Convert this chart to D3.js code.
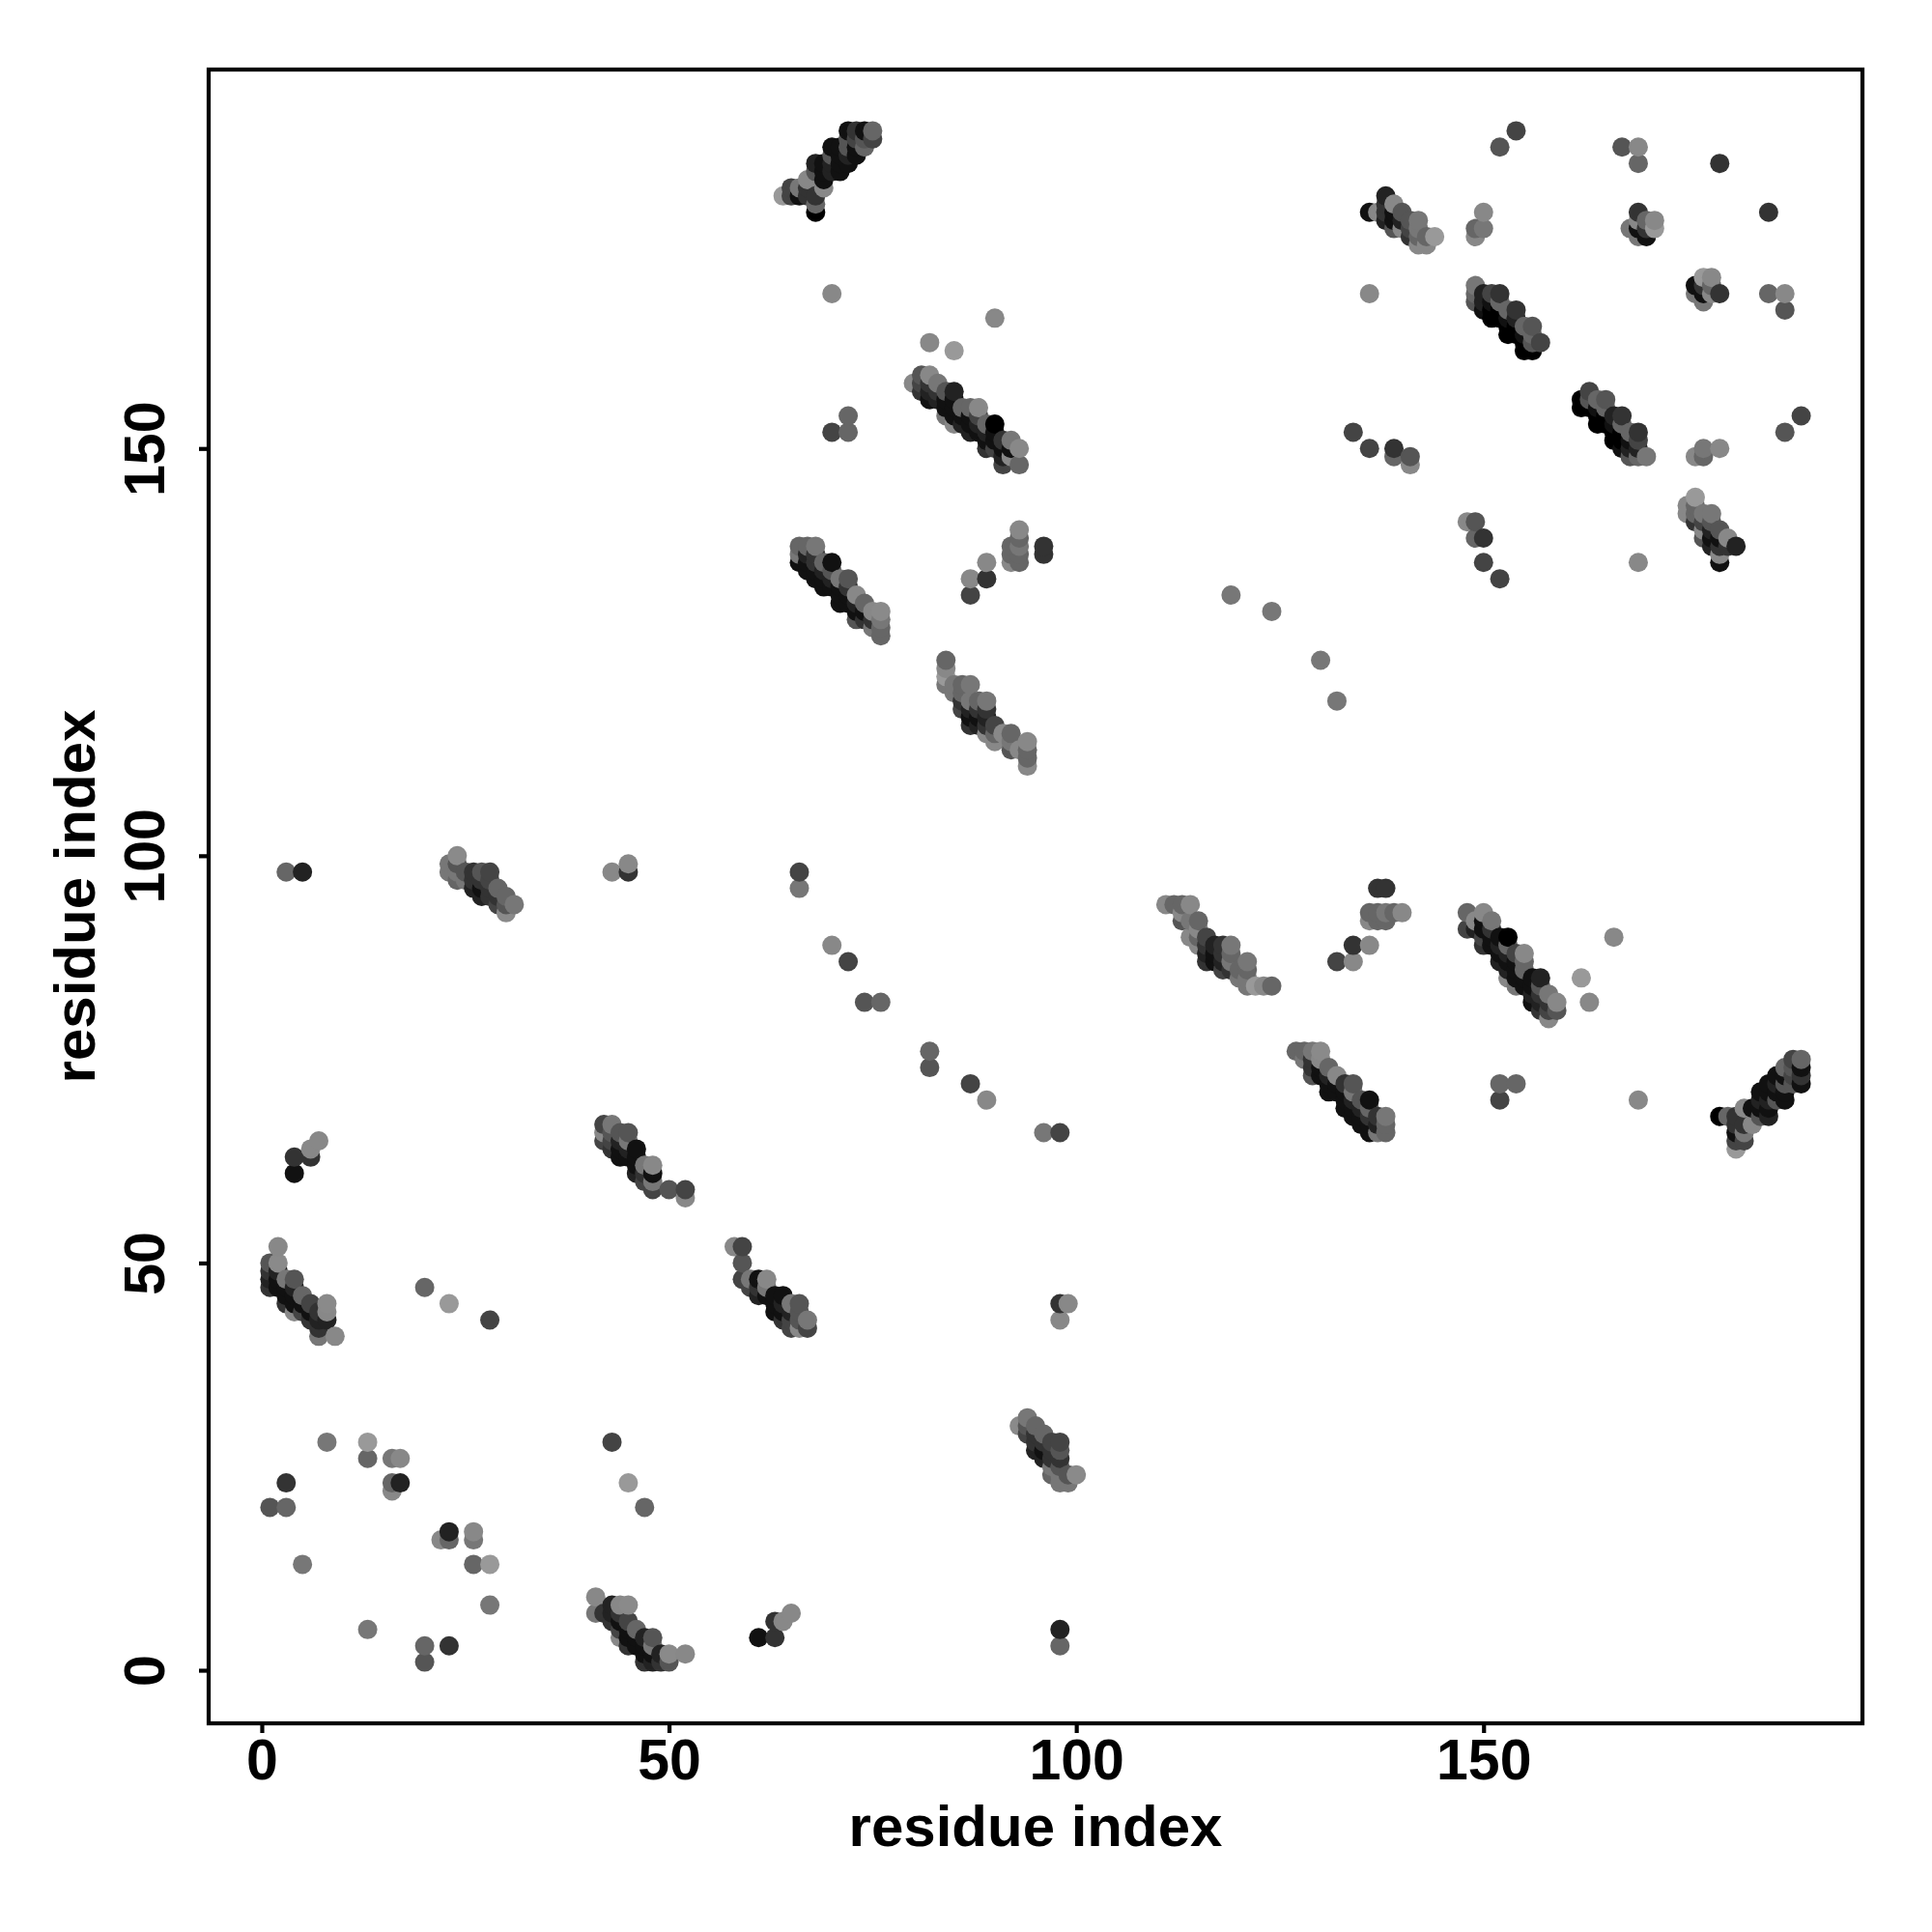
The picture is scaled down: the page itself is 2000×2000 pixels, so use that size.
<!DOCTYPE html>
<html><head><meta charset="utf-8">
<script src="https://cdn.jsdelivr.net/npm/d3@7"></script>
<style>html,body{margin:0;padding:0;background:#fff}svg{display:block}</style>
</head><body><div id="chart"></div>
<script>
// contacts [residue i, residue j, shade level]; the map is symmetric, only i<j is listed
const clusterA=[[1,47,0x33],[1,48,0x22],[1,49,0x33],[1,50,0x55],[2,47,0x11],[2,48,0x11],[2,49,0x22],[2,50,0x8a],[2,52,0x88],[3,45,0x33],[3,46,0x11],[3,47,0x11],[3,48,0x77],[4,44,0x88],[4,45,0x11],[4,46,0x11],[4,47,0x22],[4,48,0x55],[5,44,0x44],[5,45,0x11],[5,46,0x66],[6,43,0x33],[6,44,0x11],[6,45,0x44],[7,41,0x77],[7,42,0x33],[7,43,0x22],[7,44,0x33],[8,43,0x22],[8,44,0x88],[8,45,0x8a],[9,41,0x88]];
const clusterB=[[23,98,0x77],[23,99,0x77],[24,97,0x66],[24,98,0x77],[24,99,0x55],[24,100,0x8a],[25,97,0x77],[25,98,0x55],[26,96,0x22],[26,97,0x33],[26,98,0x33],[27,95,0x22],[27,96,0x11],[27,97,0x33],[27,98,0x55],[28,95,0x33],[28,96,0x33],[28,97,0x44],[28,98,0x44],[29,94,0x44],[29,95,0x33],[29,96,0x66],[30,93,0x8a],[30,94,0x55],[30,95,0x66],[31,94,0x77]];
const clusterC=[[42,65,0x44],[42,66,0x88],[42,67,0x44],[43,64,0x33],[43,65,0x44],[43,66,0x55],[43,67,0x77],[44,63,0x11],[44,64,0x11],[44,65,0x22],[44,66,0x55],[45,63,0x11],[45,64,0x22],[45,65,0x77],[45,66,0x55],[46,61,0x22],[46,62,0x11],[46,63,0x11],[46,64,0x11],[47,60,0x44],[47,61,0x33],[47,62,0x77],[48,59,0x44],[48,60,0x77],[48,61,0x11],[48,62,0x88],[50,59,0x55],[52,58,0x88],[52,59,0x44]];
const clusterD=[[64,181,0x99],[65,181,0x44],[65,182,0x44],[66,181,0x11],[66,182,0x77],[67,181,0x33],[67,182,0x33],[67,183,0x88],[68,179,0x00],[68,180,0x66],[68,181,0x33],[68,184,0x55],[68,185,0x22],[69,182,0x88],[69,183,0x11],[69,184,0x11],[69,185,0x11],[70,184,0x22],[70,185,0x22],[70,186,0x55],[70,187,0x11],[71,184,0x11],[71,185,0x11],[71,186,0x11],[71,187,0x11],[72,185,0x11],[72,186,0x22],[72,187,0x55],[72,188,0x55],[72,189,0x11],[73,186,0x11],[73,187,0x11],[73,188,0x44],[73,189,0x33],[74,187,0x66],[74,188,0x55],[74,189,0x11],[75,188,0x44],[75,189,0x66]];
const clusterE=[[66,136,0x11],[66,137,0x77],[66,138,0x66],[67,135,0x11],[67,136,0x11],[67,137,0x22],[67,138,0x66],[68,134,0x11],[68,135,0x11],[68,136,0x33],[68,137,0x33],[68,138,0x77],[69,133,0x11],[69,134,0x11],[69,135,0x22],[69,136,0x66],[70,133,0x11],[70,134,0x22],[70,135,0x55],[70,136,0x11],[71,131,0x11],[71,132,0x11],[71,133,0x11],[71,134,0x77],[72,131,0x11],[72,132,0x11],[72,133,0x33],[72,134,0x55],[73,129,0x55],[73,130,0x11],[73,131,0x22],[73,132,0x88],[74,129,0x33],[74,130,0x11],[74,131,0x66],[75,128,0x77],[75,129,0x33],[75,130,0x88],[76,127,0x66],[76,128,0x66],[76,129,0x77],[76,130,0x8a]];
const clusterF=[[80,158,0x88],[81,157,0x33],[81,158,0x44],[81,159,0x55],[82,156,0x11],[82,157,0x22],[82,158,0x33],[82,159,0x88],[83,156,0x22],[83,157,0x33],[83,158,0x77],[84,154,0x77],[84,155,0x11],[84,156,0x11],[84,157,0x55],[85,153,0x88],[85,154,0x11],[85,155,0x11],[85,156,0x11],[85,157,0x22],[86,153,0x22],[86,154,0x11],[86,155,0x66],[87,152,0x22],[87,153,0x11],[87,154,0x11],[87,155,0x66],[88,152,0x11],[88,153,0x22],[88,154,0x44],[88,155,0x88],[89,150,0x33],[89,151,0x11],[89,152,0x22],[89,153,0x66],[90,150,0x44],[90,151,0x11],[90,152,0x11],[90,153,0x00],[91,148,0x44],[91,149,0x22],[91,150,0x11],[91,151,0x33],[92,149,0x88],[92,150,0x11],[92,151,0x77],[93,148,0x66],[93,150,0x88]];
const clusterG=[[84,121,0x77],[84,122,0x99],[84,123,0x88],[84,124,0x66],[85,120,0x77],[85,121,0x77],[86,118,0x44],[86,119,0x33],[86,120,0x66],[86,121,0x66],[87,116,0x33],[87,117,0x11],[87,118,0x22],[87,119,0x77],[87,121,0x77],[88,116,0x22],[88,117,0x11],[88,118,0x33],[88,119,0x66],[89,115,0x88],[89,116,0x33],[89,117,0x22],[89,118,0x33],[89,119,0x77],[90,114,0x88],[90,115,0x66],[90,116,0x44],[91,115,0x88],[92,113,0x55],[92,114,0x77],[92,115,0x66],[93,113,0x88],[94,111,0x88],[94,112,0x66],[94,113,0x66],[94,114,0x88]];
const clusterH=[[136,179,0x11],[137,179,0x88],[138,178,0x22],[138,179,0x33],[138,180,0x33],[138,181,0x22],[139,177,0x55],[139,178,0x11],[139,179,0x11],[139,180,0x88],[140,177,0x88],[140,178,0x22],[140,179,0x55],[141,176,0x33],[141,177,0x44],[141,178,0x55],[142,175,0x88],[142,176,0x66],[142,177,0x77],[142,178,0x77],[143,175,0x88],[143,176,0x66],[144,176,0x99]];
const clusterI=[[149,168,0x55],[149,169,0x66],[149,170,0x77],[150,167,0x11],[150,168,0x22],[150,169,0x22],[151,166,0x00],[151,167,0x00],[151,168,0x11],[151,169,0x44],[152,166,0x00],[152,167,0x00],[152,168,0x66],[152,169,0x33],[153,164,0x00],[153,165,0x00],[153,166,0x11],[153,167,0x66],[154,164,0x00],[154,165,0x00],[154,166,0x22],[154,167,0x33],[155,162,0x00],[155,163,0x00],[155,164,0x11],[155,165,0x66],[156,162,0x00],[156,163,0x55],[156,164,0x66],[156,165,0x55],[157,163,0x44]];
const clusterJ=[[168,177,0x77],[169,176,0x77],[169,177,0x11],[169,178,0x88],[169,179,0x33],[170,176,0x11],[170,177,0x33],[170,178,0x66],[171,177,0x99],[171,178,0x88]];
const cluster98=[[92,136,0x88],[92,137,0x66],[92,138,0x66],[93,136,0x66],[93,137,0x66],[93,138,0x77],[93,139,0x66],[93,140,0x88],[96,137,0x33],[96,138,0x33]];
const isolatedLow=[[1,20,0x55],[3,20,0x66],[3,23,0x33],[5,13,0x77],[8,28,0x77],[13,26,0x66],[13,28,0x99],[16,22,0x88],[16,23,0x66],[16,26,0x77],[17,23,0x22],[17,26,0x88],[20,47,0x66],[23,45,0x99],[28,43,0x44],[3,98,0x66],[5,98,0x22],[4,61,0x11],[4,63,0x33],[6,63,0x33],[6,64,0x88],[7,65,0x88],[43,98,0x88],[45,98,0x33],[45,99,0x88],[66,96,0x77],[66,98,0x44]];
const isolatedMid=[[70,89,0x88],[72,87,0x44],[74,82,0x55],[76,82,0x66],[70,152,0x44],[72,152,0x66],[72,154,0x66],[70,169,0x88],[82,163,0x88],[85,162,0x99],[90,166,0x88],[87,132,0x44],[87,134,0x88],[89,134,0x33],[89,136,0x88],[119,132,0x77],[124,130,0x77],[134,152,0x44],[136,150,0x44],[139,149,0x66],[139,150,0x33],[141,148,0x88],[141,149,0x55],[136,169,0x88]];
const isolatedHigh=[[149,176,0x88],[149,177,0x66],[150,177,0x77],[150,179,0x88],[152,187,0x55],[154,189,0x44],[167,187,0x55],[169,185,0x66],[169,187,0x88],[179,185,0x33]];
const xTickValues=[0,50,100,150];
const yTickValues=[0,50,100,150];
const xTitle="residue index";
const yTitle="residue index";

const contacts=[clusterA,clusterB,clusterC,clusterD,clusterE,clusterF,clusterG,clusterH,clusterI,clusterJ,cluster98,isolatedLow,isolatedMid,isolatedHigh].flat();
const points=contacts.flatMap(([i,j,s])=>[{x:i,y:j,s},{x:j,y:i,s}])
  .sort((a,b)=>d3.ascending(a.x,b.x)||d3.ascending(a.y,b.y));

const left=216,right=1928,top_=72,bottom=1784;
const x=d3.scaleLinear().domain([-6.52,196.52]).range([left,right]);
const y=d3.scaleLinear().domain([-6.52,196.52]).range([bottom,top_]);
const font='"Liberation Sans",Arial,sans-serif';

const svg=d3.select("#chart").append("svg").attr("width",2000).attr("height",2000)
  .attr("viewBox","0 0 2000 2000");
svg.append("rect").attr("width",2000).attr("height",2000).attr("fill","#fff");

svg.append("g").selectAll("circle").data(points).join("circle")
  .attr("cx",d=>x(d.x)).attr("cy",d=>y(d.y)).attr("r",10)
  .attr("fill",d=>d3.rgb(d.s,d.s,d.s).formatHex());

svg.append("rect").attr("x",left).attr("y",top_).attr("width",right-left).attr("height",bottom-top_)
  .attr("fill","none").attr("stroke","#000").attr("stroke-width",4.2);

const gx=svg.append("g").attr("transform",`translate(0,${bottom})`)
  .call(d3.axisBottom(x).tickValues(xTickValues).tickSize(10).tickPadding(0).tickFormat(d3.format("d")));
const gy=svg.append("g").attr("transform",`translate(${left},0)`)
  .call(d3.axisLeft(y).tickValues(yTickValues).tickSize(10).tickPadding(0).tickFormat(d3.format("d")));
[gx,gy].forEach(g=>{
  g.select(".domain").remove();
  g.selectAll(".tick line").attr("stroke","#000").attr("stroke-width",4.2);
  g.selectAll(".tick text").attr("fill","#000").attr("font-family",font).attr("font-weight","bold").attr("font-size",59);
});
gx.selectAll(".tick text").attr("y",0).attr("dy",0).attr("transform","translate(0,58)").attr("text-anchor","middle");
gy.selectAll(".tick text").attr("x",0).attr("dy",0).attr("text-anchor","middle")
  .attr("transform","translate(-46,0) rotate(-90)");

svg.append("text").attr("x",(left+right)/2).attr("y",1911).attr("text-anchor","middle")
  .attr("font-family",font).attr("font-weight","bold").attr("font-size",60).attr("fill","#000").text(xTitle);
svg.append("text").attr("transform",`translate(98,${(top_+bottom)/2}) rotate(-90)`).attr("text-anchor","middle")
  .attr("font-family",font).attr("font-weight","bold").attr("font-size",60).attr("fill","#000").text(yTitle);
</script></body></html>
